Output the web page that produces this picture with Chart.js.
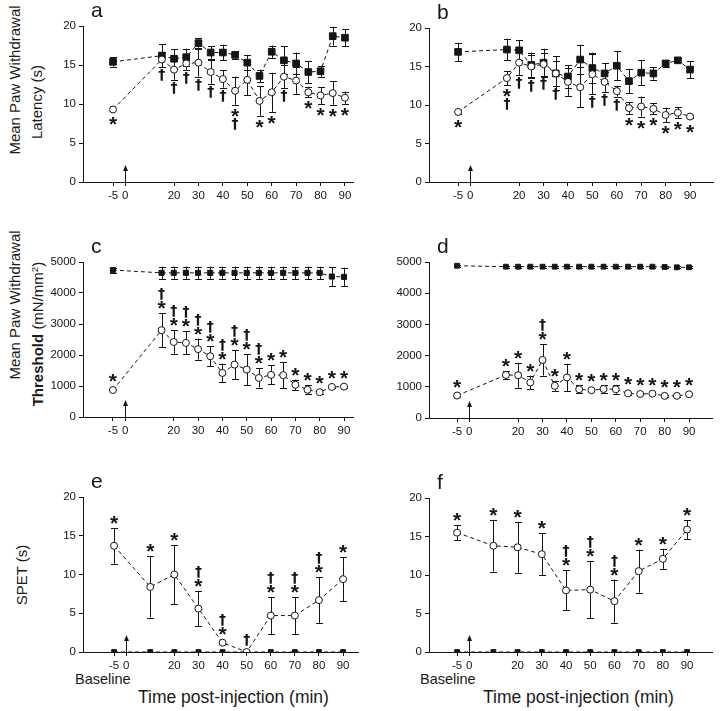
<!DOCTYPE html>
<html>
<head>
<meta charset="utf-8">
<script src="https://cdn.jsdelivr.net/npm/chart.js@4.4.1/dist/chart.umd.min.js"></script>
<style>
body { margin:0; background:#fff; width:720px; height:711px; position:relative; overflow:hidden;
       font-family:'Liberation Sans', Arial, sans-serif; color:#1a1a1a; }
canvas { position:absolute; }
.lbl { position:absolute; white-space:nowrap; line-height:1; }
.rot { transform:translate(-50%,-50%) rotate(-90deg); }
sup { font-size:65%; vertical-align:0.5em; line-height:0; }
</style>
</head>
<body>

<div class="lbl rot" style="left:14px;top:80px;font-size:15px">Mean Paw Withdrawal</div>
<div class="lbl rot" style="left:36px;top:102px;font-size:15px">Latency (s)</div>
<div class="lbl rot" style="left:14px;top:305px;font-size:15px">Mean Paw Withdrawal</div>
<div class="lbl rot" style="left:37px;top:334px;font-size:15px"><b>Threshold</b> (mN/mm<sup>2</sup>)</div>
<div class="lbl rot" style="left:21px;top:575px;font-size:15px">SPET (s)</div>

<div class="lbl" style="left:75px;top:672px;font-size:14.5px">Baseline</div>
<div class="lbl" style="left:420px;top:672px;font-size:14.5px">Baseline</div>
<div class="lbl" style="left:138px;top:689px;font-size:17.5px">Time post-injection (min)</div>
<div class="lbl" style="left:483px;top:689px;font-size:17.5px">Time post-injection (min)</div>

<script>
// ---- data ----
const xTicks = [-5, 0, 20, 30, 40, 50, 60, 70, 80, 90];
const xsLong = [-5, 15, 20, 25, 30, 35, 40, 45, 50, 55, 60, 65, 70, 75, 80, 85, 90];
const xsShort = [-5, 10, 20, 30, 40, 50, 60, 70, 80, 90];

// a: latency
const aFilled    = [15.4, 16.2, 15.8, 16.0, 17.8, 16.6, 16.6, 16.3, 15.3, 13.6, 16.7, 15.6, 15.2, 14.1, 14.2, 18.7, 18.5];
const aFilledErr = [0.6, 1.5, 1.2, 1.1, 0.6, 0.8, 1.0, 0.5, 1.0, 0.8, 0.8, 1.8, 1.4, 1.4, 0.7, 1.2, 1.1];
const aOpen      = [9.3, 15.7, 14.4, 15.2, 15.3, 14.1, 13.2, 11.7, 13.1, 10.4, 11.5, 13.5, 13.0, 11.5, 11.1, 11.4, 10.8];
const aOpenErr   = [0, 1.0, 1.3, 0.8, 1.8, 1.5, 1.1, 1.8, 2.0, 1.9, 2.5, 1.5, 1.7, 0.65, 1.1, 1.5, 0.8];
const aMarks     = ["*", "†", "†", "†", "†", "†", "†", "*†", "", "*", "*", "†", "", "*", "*", "*", "*"];

// b: latency
const bFilled    = [16.9, 17.2, 17.1, 15.2, 15.5, 14.1, 13.7, 15.9, 14.8, 14.1, 15.1, 13.1, 14.2, 14.1, 15.4, 15.8, 14.6];
const bFilledErr = [1.2, 1.4, 1.3, 1.6, 1.8, 2.2, 1.5, 1.9, 2.0, 1.3, 1.9, 1.6, 1.6, 0.8, 0.45, 0.25, 1.1];
const bOpen      = [9.1, 13.5, 15.5, 15.0, 15.3, 14.1, 13.0, 12.3, 14.0, 13.0, 11.8, 9.6, 9.8, 9.5, 8.7, 9.0, 8.5];
const bOpenErr   = [0.3, 0.9, 1.6, 1.5, 1.5, 1.6, 1.8, 2.6, 2.6, 1.3, 0.7, 0.8, 1.3, 0.7, 0.95, 0.7, 0.2];
const bMarks     = ["*", "*†", "†", "†", "†", "†", "", "", "†", "†", "†", "*", "*", "*", "*", "*", "*"];

// c: threshold
const cFilled    = [4740, 4650, 4650, 4650, 4650, 4650, 4650, 4650, 4650, 4650, 4650, 4650, 4650, 4650, 4650, 4530, 4520];
const cFilledErr = [80, 200, 200, 200, 200, 200, 200, 200, 200, 200, 200, 200, 200, 200, 200, 300, 300];
const cOpen      = [870, 2800, 2420, 2390, 2190, 1960, 1420, 1690, 1530, 1260, 1360, 1350, 1040, 880, 800, 970, 980];
const cOpenErr   = [0, 540, 380, 370, 340, 320, 300, 470, 500, 310, 310, 420, 165, 150, 70, 30, 30];
const cMarks     = ["*", "†*", "†*", "†*", "†*", "†*", "†*", "†*", "†*", "†*", "*", "*", "*", "*", "*", "*", "*"];

// d: threshold
const dFilled    = [4880, 4850, 4850, 4850, 4850, 4850, 4850, 4850, 4850, 4850, 4850, 4850, 4850, 4850, 4840, 4830, 4830];
const dFilledErr = [30, 30, 30, 30, 30, 30, 30, 30, 30, 30, 30, 30, 30, 30, 30, 30, 30];
const dOpen      = [720, 1380, 1370, 1140, 1860, 1030, 1300, 920, 890, 930, 920, 790, 770, 780, 710, 710, 760];
const dOpenErr   = [60, 130, 400, 220, 500, 160, 440, 130, 40, 130, 140, 40, 30, 30, 30, 30, 30];
const dMarks     = ["*", "*", "*", "*", "†*", "*", "*", "*", "*", "*", "*", "*", "*", "*", "*", "*", "*"];

// e, f: SPET
const eFilled  = [0, 0, 0, 0, 0, 0, 0, 0, 0, 0];
const eOpen    = [13.7, 8.4, 10.0, 5.6, 1.2, 0, 4.7, 4.7, 6.7, 9.4];
const eOpenErr = [2.3, 3.95, 3.8, 2.3, 0, 0, 2.4, 2.4, 2.95, 2.85];
const eMarks   = ["*", "*", "*", "†*", "†*", "†", "†*", "†*", "†*", "*"];

const fFilled  = [0, 0, 0, 0, 0, 0, 0, 0, 0, 0];
const fOpen    = [15.5, 13.8, 13.6, 12.7, 8.0, 8.1, 6.6, 10.5, 12.1, 15.9];
const fOpenErr = [1.0, 3.35, 3.3, 2.7, 2.6, 3.7, 2.8, 2.8, 1.3, 1.2];
const fMarks   = ["*", "*", "*", "*", "†*", "†*", "†*", "*", "*", "*"];

Chart.defaults.font.family = "'Liberation Sans', Arial, sans-serif";
Chart.defaults.color = '#1a1a1a';

const INK = '#151515';
const PAD_L = 48, PAD_T = 32, PAD_R = 6, PAD_B = 26;

function drawGlyph(ctx, c, x, cy) {
	ctx.font = c === '*' ? 'bold 21px "Liberation Sans"' : 'bold 14px "DejaVu Sans"';
	const m = ctx.measureText(c);
	ctx.textAlign = 'center';
	ctx.textBaseline = 'alphabetic';
	ctx.fillText(c, x, cy + (m.actualBoundingBoxAscent - m.actualBoundingBoxDescent) / 2);
}

function panel(p) {
	const [L, T, R, B] = p.area;
	const canvas = document.createElement('canvas');
	canvas.width = R - L + PAD_L + PAD_R;
	canvas.height = B - T + PAD_T + PAD_B;
	canvas.style.left = (L - PAD_L) + 'px';
	canvas.style.top = (T - PAD_T) + 'px';
	document.body.appendChild(canvas);

	// error bars, significance marks, injection arrow, panel letter
	const extras = {
		id: 'extras' + p.letter,
		beforeDatasetsDraw(chart) {
			const ctx = chart.ctx, xs = chart.scales.x, ys = chart.scales.y;
			ctx.save();
			ctx.strokeStyle = INK;
			ctx.lineWidth = 1;
			[[p.filled, p.filledErr], [p.open, p.openErr]].forEach(([vals, errs]) => {
				if (!errs) return;
				vals.forEach((v, i) => {
					if (!errs[i]) return;
					const x = Math.round(xs.getPixelForValue(p.xs[i])) + 0.5;
					const y1 = ys.getPixelForValue(v + errs[i]);
					const y2 = ys.getPixelForValue(v - errs[i]);
					ctx.beginPath();
					ctx.moveTo(x, y1); ctx.lineTo(x, y2);
					ctx.moveTo(x - 3.5, Math.round(y1) + 0.5); ctx.lineTo(x + 3.5, Math.round(y1) + 0.5);
					ctx.moveTo(x - 3.5, Math.round(y2) + 0.5); ctx.lineTo(x + 3.5, Math.round(y2) + 0.5);
					ctx.stroke();
				});
			});
			ctx.restore();
		},
		afterDraw(chart) {
			const ctx = chart.ctx, xs = chart.scales.x, ys = chart.scales.y;
			ctx.save();
			ctx.fillStyle = INK;
			ctx.strokeStyle = INK;
			p.marks.forEach((m, i) => {
				if (!m) return;
				const v = p.open[i], e = p.openErr[i];
				const x = xs.getPixelForValue(p.xs[i]);
				const chars = m.split('');
				if (p.side === 'below') {
					let y = Math.max(ys.getPixelForValue(v - e), ys.getPixelForValue(v) + 4) + 8;
					chars.forEach(c => { drawGlyph(ctx, c, x, y); y += 11; });
				} else {
					let y = Math.min(ys.getPixelForValue(v + e), ys.getPixelForValue(v) - 4) - 8;
					chars.reverse().forEach(c => { drawGlyph(ctx, c, x, y); y -= 11; });
				}
			});
			// arrow at injection time
			const ax = Math.round(xs.getPixelForValue(0)) + 0.5;
			const ay = ys.getPixelForValue(0);
			ctx.lineWidth = 1;
			ctx.beginPath();
			ctx.moveTo(ax, ay); ctx.lineTo(ax, ay - 12);
			ctx.stroke();
			ctx.beginPath();
			ctx.moveTo(ax, ay - 17); ctx.lineTo(ax - 2.5, ay - 11); ctx.lineTo(ax + 2.5, ay - 11);
			ctx.closePath();
			ctx.fill();
			// panel letter
			ctx.font = '21px "Liberation Sans"';
			ctx.textAlign = 'left';
			ctx.textBaseline = 'alphabetic';
			ctx.fillText(p.letter, chart.chartArea.left + 8, chart.chartArea.top - 9);
			ctx.restore();
		}
	};

	const axisGrid = { display: true, drawOnChartArea: false, drawTicks: true, tickLength: 4, color: INK, lineWidth: 1 };
	const axisBorder = { display: true, color: INK, width: 1 };

	new Chart(canvas, {
		type: 'line',
		data: {
			datasets: [
				{
					data: p.xs.map((x, i) => ({ x: x, y: p.open[i] })),
					borderColor: INK, borderWidth: 1, borderDash: [4, 3],
					pointStyle: 'circle', pointRadius: 3.5, pointBorderWidth: 1,
					pointBackgroundColor: '#fff', pointBorderColor: INK, fill: false, tension: 0
				},
				{
					data: p.xs.map((x, i) => ({ x: x, y: p.filled[i] })),
					borderColor: INK, borderWidth: 1, borderDash: [4, 3],
					pointStyle: 'rect', pointRadius: p.sqR, pointBorderWidth: 1,
					pointBackgroundColor: INK, pointBorderColor: INK, fill: false, tension: 0
				}
			]
		},
		options: {
			responsive: false,
			animation: false,
			devicePixelRatio: 1,
			layout: { padding: { left: 0, top: PAD_T, right: PAD_R, bottom: 0 } },
			plugins: { legend: { display: false }, tooltip: { enabled: false } },
			scales: {
				x: {
					type: 'linear', min: p.xMin, max: p.xMax,
					afterBuildTicks: s => { s.ticks = xTicks.map(v => ({ value: v })); },
					afterFit: s => { s.height = PAD_B; },
					grid: axisGrid, border: axisBorder,
					ticks: { font: { size: 11.5 }, color: INK, padding: 3, maxRotation: 0, autoSkip: false, callback: v => String(v) }
				},
				y: {
					min: 0, max: p.yMax,
					afterFit: s => { s.width = PAD_L; },
					grid: axisGrid, border: axisBorder,
					ticks: { stepSize: p.yStep, font: { size: 11.5 }, color: INK, padding: 3, callback: v => String(v) }
				}
			}
		},
		plugins: [extras]
	});
}

panel({ letter: 'a', area: [83, 26, 353, 182], xMin: -17.3, xMax: 93.3, yMax: 20, yStep: 5, xs: xsLong,
	filled: aFilled, filledErr: aFilledErr, open: aOpen, openErr: aOpenErr, marks: aMarks, side: 'below', sqR: 4.7 });
panel({ letter: 'b', area: [429, 28, 713, 182], xMin: -16.9, xMax: 99.4, yMax: 20, yStep: 5, xs: xsLong,
	filled: bFilled, filledErr: bFilledErr, open: bOpen, openErr: bOpenErr, marks: bMarks, side: 'below', sqR: 4.7 });
panel({ letter: 'c', area: [83, 262, 353, 417], xMin: -17.3, xMax: 93.7, yMax: 5000, yStep: 1000, xs: xsLong,
	filled: cFilled, filledErr: cFilledErr, open: cOpen, openErr: cOpenErr, marks: cMarks, side: 'above', sqR: 3.6 });
panel({ letter: 'd', area: [429, 262, 712, 418], xMin: -16.5, xMax: 99.4, yMax: 5000, yStep: 1000, xs: xsLong,
	filled: dFilled, filledErr: dFilledErr, open: dOpen, openErr: dOpenErr, marks: dMarks, side: 'above', sqR: 3.4 });
panel({ letter: 'e', area: [83, 497, 358, 652], xMin: -17.9, xMax: 96.2, yMax: 20, yStep: 5, xs: xsShort,
	filled: eFilled, filledErr: null, open: eOpen, openErr: eOpenErr, marks: eMarks, side: 'above', sqR: 3.4 });
panel({ letter: 'f', area: [429, 498, 712, 652], xMin: -16.6, xMax: 100.3, yMax: 20, yStep: 5, xs: xsShort,
	filled: fFilled, filledErr: null, open: fOpen, openErr: fOpenErr, marks: fMarks, side: 'above', sqR: 3.4 });
</script>
</body>
</html>
